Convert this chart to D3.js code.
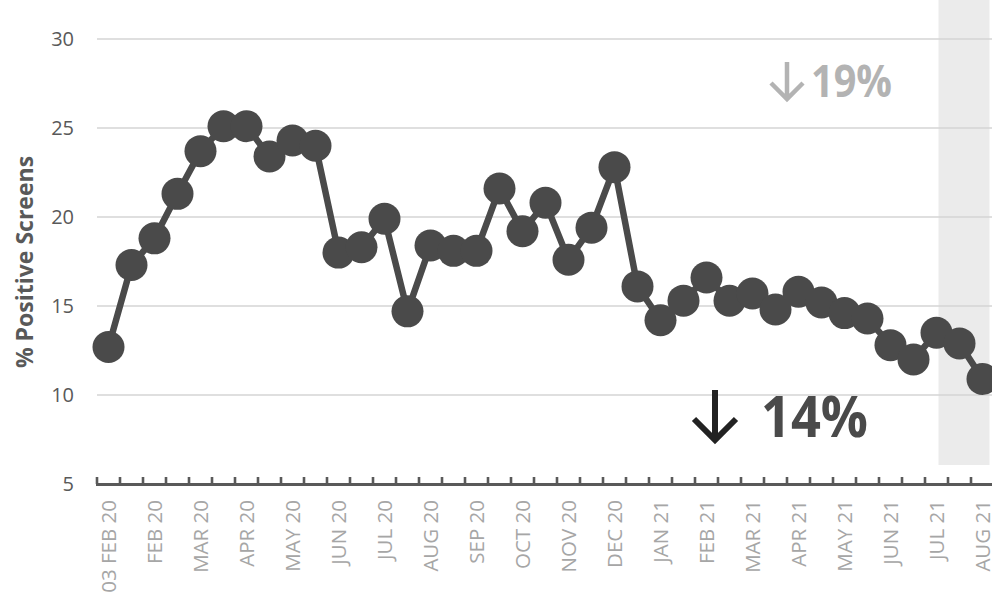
<!DOCTYPE html>
<html>
<head>
<meta charset="utf-8">
<script src="https://cdn.jsdelivr.net/npm/d3@7"></script>
<style>
  html, body { margin: 0; padding: 0; background: #ffffff; }
  svg { display: block; }
</style>
</head>
<body>
<svg id="chart" width="992" height="598"></svg>
<script>
// ---- data ----
const values = [12.7, 17.3, 18.8, 21.3, 23.7, 25.1, 25.1, 23.4, 24.3, 24.0,
                18.0, 18.3, 19.9, 14.7, 18.4, 18.1, 18.1, 21.6, 19.2, 20.8,
                17.6, 19.4, 22.8, 16.1, 14.2, 15.3, 16.6, 15.3, 15.7, 14.8,
                15.8, 15.2, 14.6, 14.3, 12.8, 12.0, 13.5, 12.9, 10.9];
const tickLabels = ["03 FEB 20","FEB 20","MAR 20","APR 20","MAY 20","JUN 20","JUL 20",
                    "AUG 20","SEP 20","OCT 20","NOV 20","DEC 20","JAN 21","FEB 21",
                    "MAR 21","APR 21","MAY 21","JUN 21","JUL 21","AUG 21"];
const yTicks = [5, 10, 15, 20, 25, 30];
const shadedRange = [36, 38];           // highlighted last periods
const annotations = [
  { text: "19%", tone: "light" },
  { text: "14%", tone: "dark" }
];
const yTitle = "% Positive Screens";

// ---- layout ----
const svg = d3.select("#chart");
const mLeft = 97, mRight = 994, mTop = 39, mBottom = 484;

const x = d3.scaleBand().domain(d3.range(values.length)).range([mLeft, mRight]);
const y = d3.scaleLinear().domain([5, 30]).range([mBottom, mTop]);
const cx = i => x(i) + x.bandwidth() / 2;

// shaded band
svg.append("rect")
  .attr("x", cx(shadedRange[0]) + 2)
  .attr("y", 0)
  .attr("width", cx(shadedRange[1]) + 7 - (cx(shadedRange[0]) + 2))
  .attr("height", 465)
  .attr("fill", "#ebebeb");

// gridlines
svg.append("g").selectAll("line")
  .data(yTicks.filter(d => d > 5))
  .join("line")
  .attr("x1", mLeft).attr("x2", 992)
  .attr("y1", d => y(d)).attr("y2", d => y(d))
  .attr("stroke", "#d4d4d4").attr("stroke-width", 1.5);

// y tick labels
svg.append("g").selectAll("text")
  .data(yTicks)
  .join("text")
  .attr("x", 74).attr("y", d => y(d))
  .attr("dy", "0.35em")
  .attr("text-anchor", "end")
  .attr("font-family", "'Open Sans', sans-serif")
  .attr("font-size", 20)
  .attr("fill", "#595959")
  .text(d => d);

// y title
svg.append("text")
  .attr("transform", "translate(33,262) rotate(-90)")
  .attr("text-anchor", "middle")
  .attr("font-family", "'Open Sans', sans-serif")
  .attr("font-weight", "bold")
  .attr("font-size", 23)
  .attr("fill", "#595959")
  .text(yTitle);

// x axis line and ticks
svg.append("line")
  .attr("x1", mLeft - 1).attr("x2", 992)
  .attr("y1", mBottom + 0.5).attr("y2", mBottom + 0.5)
  .attr("stroke", "#595959").attr("stroke-width", 3);
const boundaries = d3.range(values.length + 1).map(i => mLeft + i * x.step());
svg.append("g").selectAll("line")
  .data(boundaries)
  .join("line")
  .attr("x1", d => d).attr("x2", d => d)
  .attr("y1", mBottom - 7).attr("y2", mBottom)
  .attr("stroke", "#595959").attr("stroke-width", 2.6);

// x tick labels (every second category)
svg.append("g").selectAll("text")
  .data(tickLabels)
  .join("text")
  .attr("transform", (d, j) => `translate(${cx(j * 2) + 7},${mBottom + 16}) rotate(-90)`)
  .attr("text-anchor", "end")
  .attr("font-family", "'Open Sans', sans-serif")
  .attr("font-size", 20.5)
  .attr("fill", "#a6a6a6")
  .text(d => d);

// line + markers
const line = d3.line().x((d, i) => cx(i)).y(d => y(d));
svg.append("path")
  .datum(values)
  .attr("d", line)
  .attr("fill", "none")
  .attr("stroke", "#4a4a4a")
  .attr("stroke-width", 6.5)
  .attr("stroke-linejoin", "round");
svg.append("g").selectAll("circle")
  .data(values)
  .join("circle")
  .attr("cx", (d, i) => cx(i))
  .attr("cy", d => y(d))
  .attr("r", 16)
  .attr("fill", "#4a4a4a");

// annotations
function downArrow(g, xc, y0, y1, half, color, w) {
  g.append("path")
    .attr("d", `M${xc},${y0} L${xc},${y1} M${xc - half},${y1 - half} L${xc},${y1} L${xc + half},${y1 - half}`)
    .attr("fill", "none").attr("stroke", color).attr("stroke-width", w)
    .attr("stroke-linecap", "butt").attr("stroke-linejoin", "miter");
}
const ag = svg.append("g");
downArrow(ag, 787, 62, 99, 16, "#b3b3b3", 4.5);
ag.append("text")
  .attr("x", 811).attr("y", 97)
  .attr("font-family", "'Open Sans', sans-serif")
  .attr("font-weight", "bold")
  .attr("font-size", 44)
  .attr("textLength", 81).attr("lengthAdjust", "spacingAndGlyphs")
  .attr("fill", "#b3b3b3")
  .text(annotations[0].text);

downArrow(ag, 715, 390, 440, 21, "#222222", 6);
ag.append("text")
  .attr("x", 761).attr("y", 437)
  .attr("font-family", "'Open Sans', sans-serif")
  .attr("font-weight", "bold")
  .attr("font-size", 58)
  .attr("textLength", 107).attr("lengthAdjust", "spacingAndGlyphs")
  .attr("fill", "#4a4a4a")
  .text(annotations[1].text);
</script>
</body>
</html>
